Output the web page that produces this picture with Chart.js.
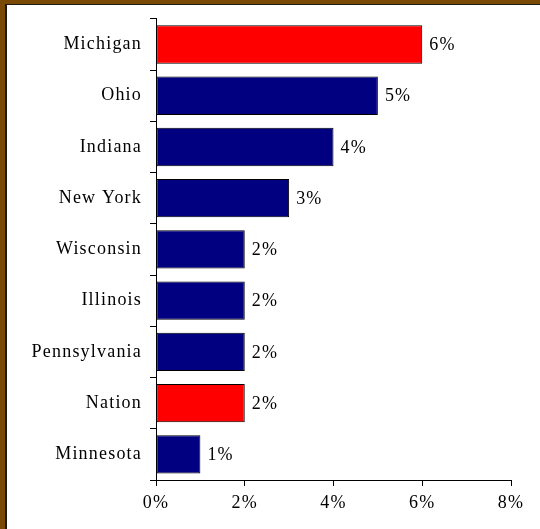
<!DOCTYPE html>
<html>
<head>
<meta charset="utf-8">
<script src="https://cdn.jsdelivr.net/npm/chart.js@4.4.1/dist/chart.umd.min.js"></script>
<style>
  html, body { margin: 0; padding: 0; background: #fff; }
  #wrap { position: absolute; left: 0; top: 0; width: 540px; height: 529px; }
</style>
</head>
<body>
<div id="wrap"><canvas id="myChart" width="540" height="529"></canvas></div>
<script>
// data
var states = ['Michigan', 'Ohio', 'Indiana', 'New York', 'Wisconsin', 'Illinois', 'Pennsylvania', 'Nation', 'Minnesota'];
var growth = [6, 5, 4, 3, 2, 2, 2, 2, 1];
var highlight = ['Michigan', 'Nation'];
var xTicks = [0, 2, 4, 6, 8];

var serif = '"Liberation Serif", "Times New Roman", serif';
var barColors = states.map(function (s) {
  return highlight.indexOf(s) >= 0 ? '#ff0000' : '#000080';
});

// slightly spaced lettering like the original
const spacing = {
  id: 'spacing',
  beforeDraw: function (chart) {
    chart.ctx.letterSpacing = '1.2px';
  }
};

// value labels at the bar ends
const valueLabels = {
  id: 'valueLabels',
  afterDatasetsDraw: function (chart) {
    var ctx = chart.ctx;
    var meta = chart.getDatasetMeta(0);
    ctx.save();
    ctx.font = '18px ' + serif;
    ctx.fillStyle = '#000';
    ctx.textAlign = 'left';
    ctx.textBaseline = 'middle';
    meta.data.forEach(function (bar, i) {
      ctx.fillText(growth[i] + '%', bar.x + 7, bar.y + 1);
    });
    ctx.restore();
  }
};

// brown frame on top and left
const frame = {
  id: 'frame',
  afterDraw: function (chart) {
    var ctx = chart.ctx;
    ctx.save();
    ctx.fillStyle = '#7a4a04';
    ctx.fillRect(0, 0, 540, 4);
    ctx.fillRect(0, 0, 5, 529);
    ctx.fillStyle = '#1e1a14';
    ctx.fillRect(5, 4, 535, 1);
    ctx.fillRect(5, 4, 2, 525);
    ctx.restore();
  }
};

const ctx = document.getElementById('myChart').getContext('2d');
const myChart = new Chart(ctx, {
  type: 'bar',
  data: {
    labels: states,
    datasets: [{
      label: 'growth',
      data: growth,
      backgroundColor: barColors,
      borderColor: '#000',
      borderWidth: 1,
      borderSkipped: false,
      barPercentage: 0.75,
      categoryPercentage: 1
    }]
  },
  plugins: [spacing, valueLabels, frame],
  options: {
    indexAxis: 'y',
    responsive: false,
    animation: false,
    layout: { padding: { top: 17, right: 29, left: 0, bottom: 0 } },
    plugins: {
      legend: { display: false },
      tooltip: { enabled: false }
    },
    scales: {
      x: {
        min: 0,
        max: 8,
        afterBuildTicks: function (axis) {
          axis.ticks = xTicks.map(function (v) { return { value: v }; });
        },
        afterFit: function (axis) { axis.height = 49; },
        grid: { drawOnChartArea: false, drawTicks: true, tickLength: 6, color: '#000' },
        border: { display: true, color: '#000', width: 1 },
        ticks: {
          color: '#000',
          padding: 6,
          maxRotation: 0,
          font: { family: serif, size: 18 },
          callback: function (v) { return v + '%'; }
        }
      },
      y: {
        afterFit: function (axis) { axis.width = 156; },
        grid: { drawOnChartArea: false, drawTicks: true, tickLength: 6, color: '#000', offset: true },
        border: { display: true, color: '#000', width: 1 },
        ticks: {
          color: '#000',
          padding: 8,
          font: { family: serif, size: 18 }
        }
      }
    }
  }
});
</script>
</body>
</html>
